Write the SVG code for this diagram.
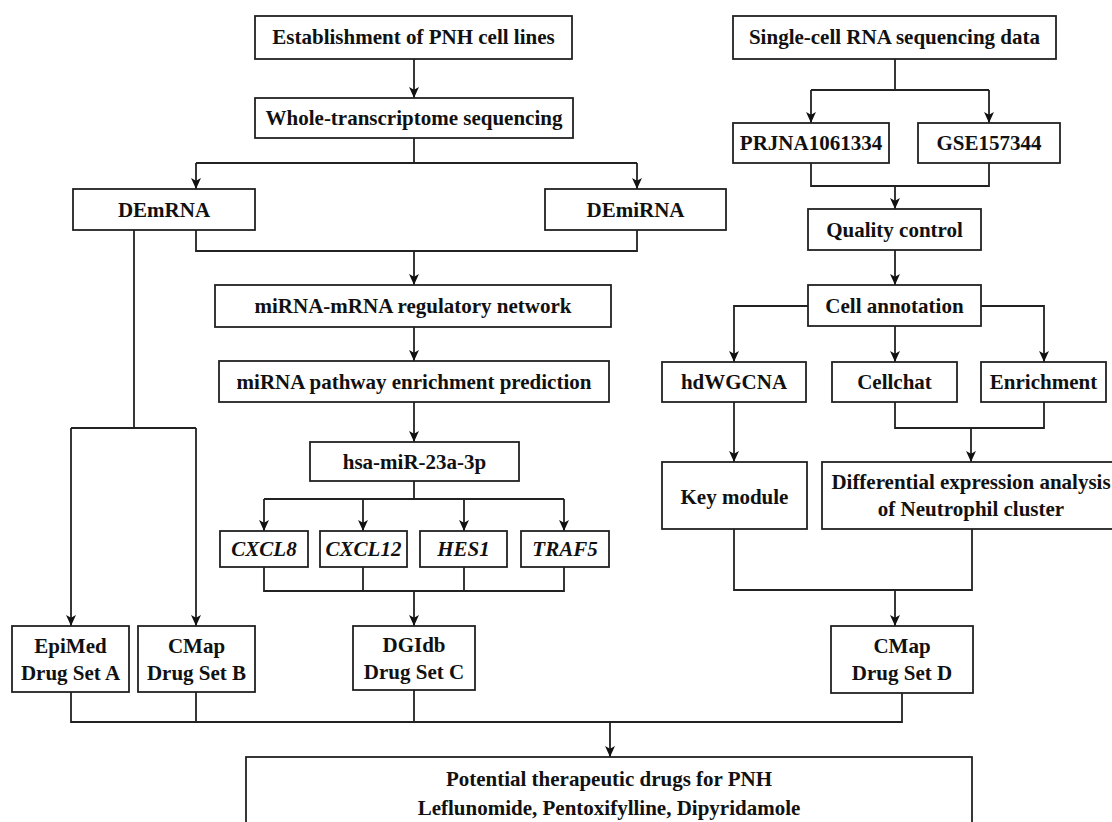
<svg xmlns="http://www.w3.org/2000/svg" width="1112" height="822" viewBox="0 0 1112 822">
<style>
.box{fill:#fff;stroke:#222;stroke-width:1.8}
.t{font-family:"Liberation Serif","Times New Roman",serif;font-weight:bold;font-size:21px;fill:#111;text-anchor:middle}
.i{font-style:italic}
.c{fill:none;stroke:#222;stroke-width:1.8}
</style>
<defs>
<marker id="ah" markerWidth="11" markerHeight="11" refX="10" refY="5" orient="auto" markerUnits="userSpaceOnUse" viewBox="0 0 10 10">
<path d="M0,0.5 L10,5 L0,9.5 L2.5,5 z" fill="#111"/>
</marker>
</defs>
<rect width="1112" height="822" fill="#fff"/>

<g id="connectors">
<path class="c" d="M414,59 V98" marker-end="url(#ah)"/>
<path class="c" d="M414,138 V163 M196,163 H637"/>
<path class="c" d="M196,163 V189" marker-end="url(#ah)"/>
<path class="c" d="M637,163 V189" marker-end="url(#ah)"/>
<path class="c" d="M196,230 V251 H637 V230"/>
<path class="c" d="M414,251 V285" marker-end="url(#ah)"/>
<path class="c" d="M134,230 V428 M71,428 H196"/>
<path class="c" d="M71,428 V626" marker-end="url(#ah)"/>
<path class="c" d="M196,428 V626" marker-end="url(#ah)"/>
<path class="c" d="M414,327 V361" marker-end="url(#ah)"/>
<path class="c" d="M414,402 V442" marker-end="url(#ah)"/>
<path class="c" d="M414,481 V499 M264,499 H564"/>
<path class="c" d="M264,499 V531" marker-end="url(#ah)"/>
<path class="c" d="M363,499 V531" marker-end="url(#ah)"/>
<path class="c" d="M464,499 V531" marker-end="url(#ah)"/>
<path class="c" d="M564,499 V531" marker-end="url(#ah)"/>
<path class="c" d="M264,567 V591 H564 V567 M363,567 V591 M464,567 V591"/>
<path class="c" d="M414,591 V626" marker-end="url(#ah)"/>
<path class="c" d="M71,692 V722 H902 V693 M196,692 V722 M414,690 V722"/>
<path class="c" d="M610,722 V757" marker-end="url(#ah)"/>

<path class="c" d="M895,59 V90 M811,90 H989"/>
<path class="c" d="M811,90 V123" marker-end="url(#ah)"/>
<path class="c" d="M989,90 V123" marker-end="url(#ah)"/>
<path class="c" d="M811,163 V186 H989 V163"/>
<path class="c" d="M895,186 V209" marker-end="url(#ah)"/>
<path class="c" d="M895,250 V285" marker-end="url(#ah)"/>
<path class="c" d="M808,306 H734 V362" marker-end="url(#ah)"/>
<path class="c" d="M981,306 H1044 V362" marker-end="url(#ah)"/>
<path class="c" d="M895,326 V362" marker-end="url(#ah)"/>
<path class="c" d="M734,402 V462" marker-end="url(#ah)"/>
<path class="c" d="M895,402 V428 H1044 V402"/>
<path class="c" d="M971,428 V462" marker-end="url(#ah)"/>
<path class="c" d="M734,529 V590 H972 V529"/>
<path class="c" d="M895,590 V626" marker-end="url(#ah)"/>
</g>

<g id="establishment"><rect class="box" x="255" y="16" width="317" height="43"/><text class="t" x="413.5" y="44">Establishment of PNH cell lines</text></g>
<g id="wts"><rect class="box" x="255" y="98" width="318" height="40"/><text class="t" x="414" y="125">Whole-transcriptome sequencing</text></g>
<g id="demrna"><rect class="box" x="73" y="189" width="182" height="41"/><text class="t" x="164" y="217">DEmRNA</text></g>
<g id="demirna"><rect class="box" x="545" y="189" width="181" height="41"/><text class="t" x="635.5" y="217">DEmiRNA</text></g>
<g id="network"><rect class="box" x="215" y="285" width="396" height="42"/><text class="t" x="413" y="313">miRNA-mRNA regulatory network</text></g>
<g id="pathway"><rect class="box" x="219" y="361" width="390" height="41"/><text class="t" x="414" y="388.5">miRNA pathway enrichment prediction</text></g>
<g id="hsa"><rect class="box" x="310" y="442" width="209" height="39"/><text class="t" x="414.5" y="468.5">hsa-miR-23a-3p</text></g>
<g id="cxcl8"><rect class="box" x="220" y="531" width="88" height="36"/><text class="t i" x="264" y="556">CXCL8</text></g>
<g id="cxcl12"><rect class="box" x="320" y="531" width="87" height="36"/><text class="t i" x="363.5" y="556">CXCL12</text></g>
<g id="hes1"><rect class="box" x="420" y="531" width="87" height="36"/><text class="t i" x="463.5" y="556">HES1</text></g>
<g id="traf5"><rect class="box" x="521" y="531" width="88" height="36"/><text class="t i" x="565" y="556">TRAF5</text></g>
<g id="setA"><rect class="box" x="12" y="626" width="117" height="66"/><text class="t" x="70.5" y="653">EpiMed</text><text class="t" x="70.5" y="680">Drug Set A</text></g>
<g id="setB"><rect class="box" x="138" y="626" width="117" height="66"/><text class="t" x="196.5" y="653">CMap</text><text class="t" x="196.5" y="680">Drug Set B</text></g>
<g id="setC"><rect class="box" x="353" y="626" width="122" height="64"/><text class="t" x="414" y="652">DGIdb</text><text class="t" x="414" y="679">Drug Set C</text></g>
<g id="setD"><rect class="box" x="831" y="626" width="142" height="67"/><text class="t" x="902" y="653">CMap</text><text class="t" x="902" y="680">Drug Set D</text></g>
<g id="result"><rect class="box" x="246" y="757" width="726" height="80"/><text class="t" x="609" y="786">Potential therapeutic drugs for PNH</text><text class="t" x="609" y="815">Leflunomide, Pentoxifylline, Dipyridamole</text></g>

<g id="scrna"><rect class="box" x="733" y="16" width="323" height="43"/><text class="t" x="894.5" y="44">Single-cell RNA sequencing data</text></g>
<g id="prjna"><rect class="box" x="733" y="123" width="156" height="40"/><text class="t" x="811" y="150">PRJNA1061334</text></g>
<g id="gse"><rect class="box" x="918" y="123" width="142" height="40"/><text class="t" x="989" y="150">GSE157344</text></g>
<g id="qc"><rect class="box" x="808" y="209" width="173" height="41"/><text class="t" x="894.5" y="236.5">Quality control</text></g>
<g id="annot"><rect class="box" x="808" y="285" width="173" height="41"/><text class="t" x="894.5" y="312.5">Cell annotation</text></g>
<g id="hdwgcna"><rect class="box" x="662" y="362" width="144" height="40"/><text class="t" x="734" y="389">hdWGCNA</text></g>
<g id="cellchat"><rect class="box" x="832" y="362" width="125" height="40"/><text class="t" x="894.5" y="389">Cellchat</text></g>
<g id="enrichment"><rect class="box" x="981" y="362" width="125" height="40"/><text class="t" x="1043.5" y="389">Enrichment</text></g>
<g id="keymodule"><rect class="box" x="662" y="462" width="145" height="67"/><text class="t" x="734.5" y="504">Key module</text></g>
<g id="diff"><rect class="box" x="822" y="462" width="300" height="67"/><text class="t" x="971" y="489">Differential expression analysis</text><text class="t" x="971" y="516">of Neutrophil cluster</text></g>
</svg>
